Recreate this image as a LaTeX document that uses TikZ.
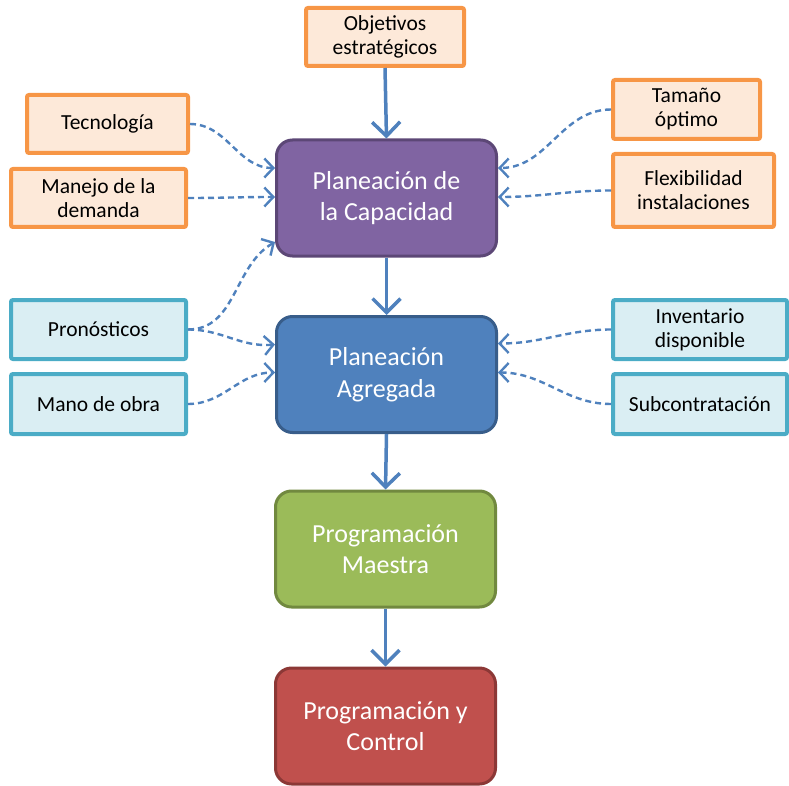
\documentclass[tikz,border=0pt]{standalone}
\usepackage{fontspec}
\setmainfont{Carlito}
\usetikzlibrary{arrows.meta,calc}
\definecolor{orB}{HTML}{F79646}
\definecolor{orF}{HTML}{FDE9D9}
\definecolor{tlB}{HTML}{4BACC6}
\definecolor{tlF}{HTML}{DAEEF3}
\definecolor{arrc}{HTML}{4F81BD}
\definecolor{purF}{HTML}{8064A2}
\definecolor{purB}{HTML}{5C4776}
\definecolor{bluF}{HTML}{4F81BD}
\definecolor{bluB}{HTML}{385D8A}
\definecolor{grnF}{HTML}{9BBB59}
\definecolor{grnB}{HTML}{71893F}
\definecolor{redF}{HTML}{C0504D}
\definecolor{redB}{HTML}{8C3836}
\begin{document}
\begin{tikzpicture}[x=1pt,y=-1pt,
  smallbox/.style={draw, line width=4pt, rounded corners=2pt, align=center,
    font=\fontsize{21.5}{24}\selectfont, inner sep=0pt, text=black},
  orbox/.style={smallbox, draw=orB, fill=orF},
  tlbox/.style={smallbox, draw=tlB, fill=tlF},
  mainbox/.style={draw, line width=3pt, rounded corners=16pt, align=center,
    font=\fontsize{26}{31.5}\selectfont, text=white, minimum width=220pt,
    minimum height=116pt, inner sep=0pt},
  mainarrow/.style={draw=arrc, line width=3.5pt, -{Straight Barb[length=14pt,width=28pt]}},
  dasharrow/.style={draw=arrc, line width=2.4pt, dash pattern=on 6pt off 4pt,
    -{Straight Barb[length=9pt,width=19pt]}}
]
\useasboundingbox (0,0) rectangle (789,786);

% main boxes
\node[mainbox, fill=purF, draw=purB] (cap) at (386.5,198) {Planeación de\\la Capacidad};
\node[mainbox, fill=bluF, draw=bluB] (agr) at (386.5,374.5) {Planeación\\Agregada};
\node[mainbox, fill=grnF, draw=grnB] (mae) at (385.5,549) {Programación\\Maestra};
\node[mainbox, fill=redF, draw=redB] (ctl) at (385.5,726) {Programación y\\Control};

% small boxes
\node[orbox, minimum width=158pt, minimum height=58pt] (obj) at (385,37) {Objetivos\\estratégicos};
\node[orbox, minimum width=161pt, minimum height=58pt] (tec) at (107.5,124) {Tecnología};
\node[orbox, minimum width=175pt, minimum height=58pt] (man) at (98.5,198) {Manejo de la\\demanda};
\node[orbox, minimum width=147pt, minimum height=59pt] (tam) at (686.5,109.5) {Tamaño\\óptimo};
\node[orbox, minimum width=161pt, minimum height=73pt] (fle) at (693.5,190.5) {Flexibilidad\\instalaciones};
\node[tlbox, minimum width=175pt, minimum height=59pt] (pro) at (98.5,329.5) {Pronósticos};
\node[tlbox, minimum width=175pt, minimum height=60pt] (mob) at (98.5,404) {Mano de obra};
\node[tlbox, minimum width=174pt, minimum height=59pt] (inv) at (700,329.5) {Inventario\\disponible};
\node[tlbox, minimum width=174pt, minimum height=60pt] (sub) at (700,404) {Subcontratación};

% main arrows
\draw[mainarrow] (obj.south) -- (cap.north);
\draw[mainarrow] (cap.south) -- (agr.north);
\draw[mainarrow] (agr.south) -- (mae.north);
\draw[mainarrow] (mae.south) -- (ctl.north);

% dashed connectors
\draw[dasharrow] (tec.east) to[out=0,in=180] ([yshift=30pt]cap.west);
\draw[dasharrow] (man.east) to[out=0,in=180] ([yshift=1pt]cap.west);
\draw[dasharrow] (pro.east) to[out=0,in=210] ([yshift=-44pt]cap.west);
\draw[dasharrow] (pro.east) to[out=0,in=185] ([yshift=30pt]agr.west);
\draw[dasharrow] (mob.east) to[out=0,in=180] ([yshift=2pt]agr.west);
\draw[dasharrow] (tam.west) to[out=180,in=0] ([yshift=30pt]cap.east);
\draw[dasharrow] (fle.west) to[out=180,in=0] ([yshift=1pt]cap.east);
\draw[dasharrow] (inv.west) to[out=180,in=0] ([yshift=31pt]agr.east);
\draw[dasharrow] (sub.west) to[out=180,in=0] ([yshift=2pt]agr.east);
\end{tikzpicture}
\end{document}
